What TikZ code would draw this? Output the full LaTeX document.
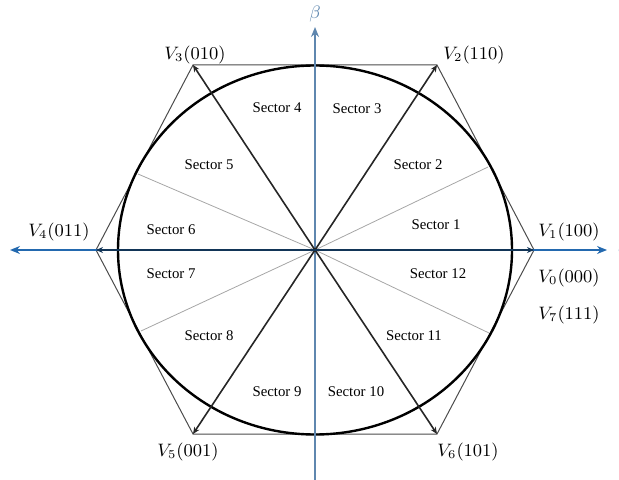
\documentclass[tikz,border=0pt]{standalone}
\usepackage{fontspec}
\newfontfamily\sektorschrift{Liberation Serif}
\usetikzlibrary{arrows.meta}
\definecolor{achsblau}{RGB}{35,105,175}
\definecolor{achsgrau}{RGB}{95,135,175}

\begin{document}
\begin{tikzpicture}[x=0.5pt,y=-0.5pt,
    vektor/.style={black!85, line width=0.8pt, -{Stealth[length=3.5pt,width=3pt]}},
    grenze/.style={black!35, line width=0.4pt},
    sektor/.style={font=\sektorschrift\fontsize{7.4}{9}\selectfont},
    zustand/.style={font=\fontsize{9}{11}\selectfont}]

    \useasboundingbox (0,0) rectangle (619,480);

    % Punkte
    \coordinate (O) at (315,250);
    \coordinate (V1) at (534,250);
    \coordinate (V2) at (437,65);
    \coordinate (V3) at (193,65);
    \coordinate (V4) at (96,250);
    \coordinate (V5) at (193,434);
    \coordinate (V6) at (437,434);

    % Sektorgrenzen
    \coordinate (g1) at (488,167);
    \coordinate (g2) at (138,174);
    \coordinate (g3) at (141,331);
    \coordinate (g4) at (489,333);
    \foreach \g in {g1,g2,g3,g4} {
        \draw[grenze] (O) -- (\g);
    }

    % Sechseck
    \draw[black!70, line width=0.5pt] (V1) -- (V2) -- (V3) -- (V4) -- (V5) -- (V6) -- cycle;

    % Kreis
    \draw[line width=1.2pt] (O) ellipse [x radius=197, y radius=184.5];

    % Achsen
    \coordinate (xl) at (10,250);
    \coordinate (xr) at (607,250);
    \coordinate (yo) at (315,27);
    \coordinate (yu) at (315,480);
    \draw[achsgrau, line width=0.9pt, -{Stealth[length=5pt,width=4pt]}] (yu) -- (yo);
    \draw[achsblau, line width=0.9pt, {Stealth[length=5pt,width=4pt]}-{Stealth[length=5pt,width=4pt]}] (xl) -- (xr);
    \node[achsgrau, font=\fontsize{9}{11}\selectfont] (beta) at (315,14) {$\beta$};
    \node[achsblau, font=\fontsize{9}{11}\selectfont] (alpha) at (624,250) {$\alpha$};

    % Spannungsvektoren
    \foreach \v in {V2,V3,V5,V6} {
        \draw[vektor] (O) -- (\v);
    }
    \draw[vektor, achsblau!50!black] (O) -- (V1);
    \draw[vektor, achsblau!50!black] (O) -- (V4);

    % Beschriftung der Vektoren
    \node[zustand] (lV1) at (569,232) {$V_1(100)$};
    \node[zustand] (lV0) at (569,278) {$V_0(000)$};
    \node[zustand] (lV7) at (569,315) {$V_7(111)$};
    \node[zustand] (lV2) at (474,55) {$V_2(110)$};
    \node[zustand] (lV3) at (195,55) {$V_3(010)$};
    \node[zustand] (lV4) at (59,232) {$V_4(011)$};
    \node[zustand] (lV5) at (188,452) {$V_5(001)$};
    \node[zustand] (lV6) at (468,452) {$V_6(101)$};

    % Sektoren
    \node[sektor] (s1) at (436,225) {Sector 1};
    \node[sektor] (s2) at (418,165) {Sector 2};
    \node[sektor] (s3) at (357,109) {Sector 3};
    \node[sektor] (s4) at (277,108) {Sector 4};
    \node[sektor] (s5) at (209,165) {Sector 5};
    \node[sektor] (s6) at (171,230) {Sector 6};
    \node[sektor] (s7) at (171,274) {Sector 7};
    \node[sektor] (s8) at (209,336) {Sector 8};
    \node[sektor] (s9) at (277,392) {Sector 9};
    \node[sektor] (s10) at (356,392) {Sector 10};
    \node[sektor] (s11) at (414,336) {Sector 11};
    \node[sektor] (s12) at (438,274) {Sector 12};

\end{tikzpicture}
\end{document}
